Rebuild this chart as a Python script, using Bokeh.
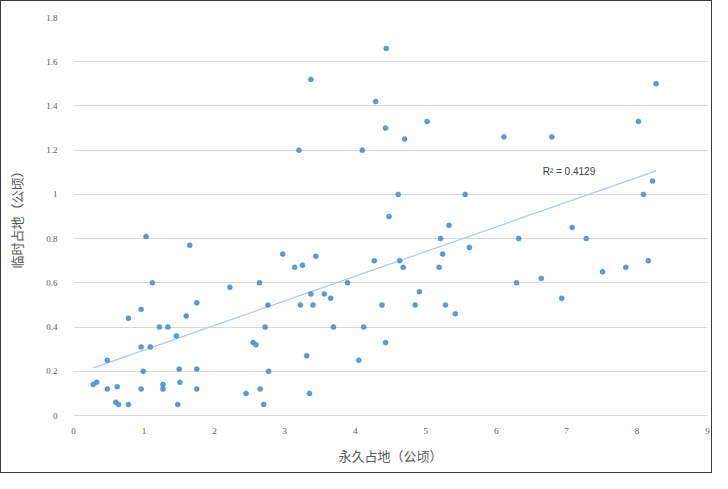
import numpy as np
from bokeh.plotting import figure
from bokeh.models import FixedTicker, Label
from bokeh.embed import file_html
from bokeh.resources import INLINE

x_perm = [0.28, 0.33, 0.48, 0.48, 0.62, 0.60, 0.64, 0.78, 0.78, 0.96, 0.96, 0.99, 0.96, 1.03, 1.09,
          1.12, 1.22, 1.27, 1.27, 1.34, 1.46, 1.48, 1.50, 1.51, 1.60, 1.65, 1.75, 1.75, 1.75, 2.22,
          2.45, 2.55, 2.59, 2.64, 2.65, 2.70, 2.72, 2.76, 2.77, 2.97, 3.14, 3.20, 3.25, 3.22, 3.31,
          3.37, 3.37, 3.35, 3.40, 3.44, 3.56, 3.65, 3.69, 3.89, 4.05, 4.10, 4.12, 4.27, 4.29, 4.38,
          4.43, 4.43, 4.44, 4.48, 4.61, 4.63, 4.68, 4.70, 4.85, 4.91, 5.02, 5.19, 5.21, 5.24, 5.28,
          5.33, 5.42, 5.56, 5.62, 6.11, 6.29, 6.32, 6.64, 6.79, 6.93, 7.08, 7.28, 7.51, 7.84, 8.02,
          8.09, 8.16, 8.22, 8.27]
y_temp = [0.14, 0.15, 0.25, 0.12, 0.13, 0.06, 0.05, 0.44, 0.05, 0.48, 0.31, 0.20, 0.12, 0.81, 0.31,
          0.60, 0.40, 0.14, 0.12, 0.40, 0.36, 0.05, 0.21, 0.15, 0.45, 0.77, 0.51, 0.21, 0.12, 0.58,
          0.10, 0.33, 0.32, 0.60, 0.12, 0.05, 0.40, 0.50, 0.20, 0.73, 0.67, 1.20, 0.68, 0.50, 0.27,
          1.52, 0.55, 0.10, 0.50, 0.72, 0.55, 0.53, 0.40, 0.60, 0.25, 1.20, 0.40, 0.70, 1.42, 0.50,
          1.30, 0.33, 1.66, 0.90, 1.00, 0.70, 0.67, 1.25, 0.50, 0.56, 1.33, 0.67, 0.80, 0.73, 0.50,
          0.86, 0.46, 1.00, 0.76, 1.26, 0.60, 0.80, 0.62, 1.26, 0.53, 0.85, 0.80, 0.65, 0.67, 1.33,
          1.00, 0.70, 1.06, 1.50]

x_ticks = [0, 1, 2, 3, 4, 5, 6, 7, 8, 9]
y_ticks = [0, 0.2, 0.4, 0.6, 0.8, 1.0, 1.2, 1.4, 1.6, 1.8]
y_tick_labels = ["0", "0.2", "0.4", "0.6", "0.8", "1", "1.2", "1.4", "1.6", "1.8"]
r2_text = "R² = 0.4129"

xa = np.array(x_perm)
ya = np.array(y_temp)
slope, intercept = np.polyfit(xa, ya, 1)

p = figure(width=712, height=473, output_backend="svg", toolbar_location=None,
           x_range=(0, 9), y_range=(0, 1.8),
           min_border_left=72, min_border_right=6, min_border_top=16, min_border_bottom=59,
           background_fill_color="white", border_fill_color="white",
           styles={"border": "1px solid #3a3a3a"})
p.outline_line_color = None
p.xgrid.grid_line_color = None
p.ygrid.grid_line_color = "#d9d9d9"
p.ygrid.grid_line_width = 1

p.xaxis.ticker = FixedTicker(ticks=x_ticks)
p.yaxis.ticker = FixedTicker(ticks=y_ticks)
p.yaxis.major_label_overrides = {t: l for t, l in zip(y_ticks, y_tick_labels)}

for ax in (p.xaxis[0], p.yaxis[0]):
    ax.major_tick_line_color = None
    ax.minor_tick_line_color = None
    ax.major_label_text_font = "Liberation Serif"
    ax.major_label_text_font_size = "9px"
    ax.major_label_text_color = "#595959"
    ax.axis_label_text_font = "Noto Sans CJK SC"
    ax.axis_label_text_font_size = "13px"
    ax.axis_label_text_font_style = "normal"
    ax.axis_label_text_color = "#595959"
p.xaxis.axis_line_color = "#d9d9d9"
p.yaxis.axis_line_color = None
p.xaxis.axis_label = "永久占地（公顷）"
p.yaxis.axis_label = "临时占地（公顷）"
p.xaxis.major_label_standoff = 6
p.xaxis.axis_label_standoff = 9
p.yaxis.major_label_standoff = 10
p.yaxis.axis_label_standoff = 17

xl = np.array([xa.min(), xa.max()])
p.line(xl, slope * xl + intercept, line_color="#a9c9ea", line_width=1.2)

p.scatter(x_perm, y_temp, size=5, fill_color="#5b9bd5", line_color="#4a86c0", line_width=0.5)

p.add_layout(Label(x=6.66, y=1.105, text=r2_text, text_font="Liberation Sans",
                   text_font_size="10px", text_color="#404040", text_baseline="middle"))

open("out.html", "w").write(file_html(p, INLINE))
